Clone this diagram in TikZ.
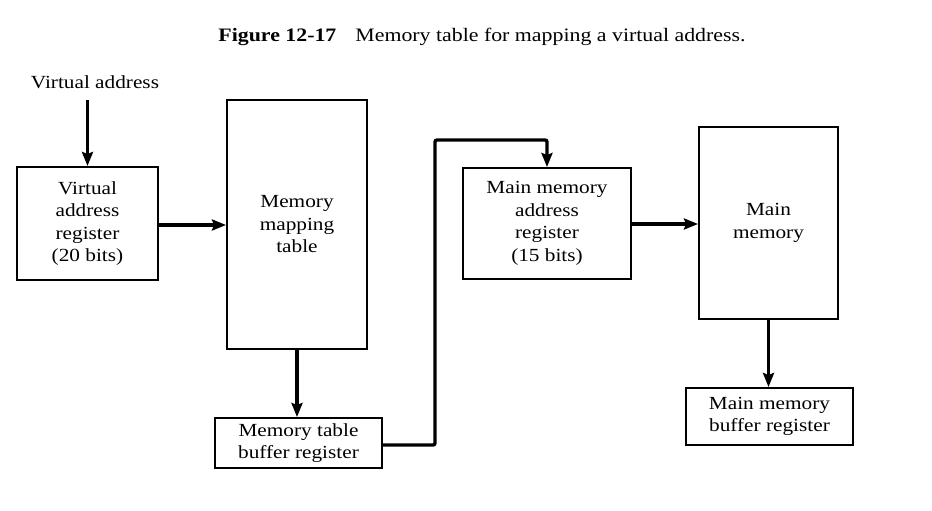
\documentclass[tikz,border=0pt]{standalone}
\usepackage{fontspec}
\setmainfont{Liberation Serif}[FakeStretch=1.15]
\usetikzlibrary{arrows.meta,calc}
\begin{document}
\begin{tikzpicture}[x=1pt,y=-1pt,
  box/.style={draw,line width=2pt,rectangle,align=center,inner sep=0pt,font=\fontsize{18.5}{22.5}\selectfont},
  flow/.style={line width=3.4pt,-{Stealth[length=14pt,width=11pt,inset=2pt]}},
  lbl/.style={font=\fontsize{18.5}{22.5}\selectfont}]
\useasboundingbox (0,0) rectangle (932,511);
\node[lbl,font=\fontsize{19}{22.5}\selectfont] (cap) at (482,37) {\textbf{Figure 12-17}\quad Memory table for mapping a virtual address.};
\node[lbl,inner sep=0pt] (va) at (95,82) {Virtual address};
\node[box,minimum width=141pt,minimum height=113pt] (var) at (87.5,223.5) {Virtual\\address\\register\\(20 bits)};
\node[box,minimum width=140pt,minimum height=249pt] (mmt) at (297,224.5) {Memory\\mapping\\table};
\node[box,minimum width=167pt,minimum height=50pt] (mtbr) at (298.5,443) {Memory table\\buffer register};
\node[box,minimum width=168pt,minimum height=111pt] (mmar) at (547,223.5) {Main memory\\address\\register\\(15 bits)};
\node[box,minimum width=139pt,minimum height=192pt] (mm) at (768.5,223) {Main\\memory};
\node[box,minimum width=167pt,minimum height=57pt] (mmbr) at (769.5,416.5) {Main memory\\buffer register};
\coordinate (bend) at (435,140);
\coordinate (vastart) at (var.north |- 0,100);
\draw[flow] (vastart) -- (var.north);
\draw[flow] (var.east |- 0,225) -- (mmt.west |- 0,225);
\draw[flow] (mmt.south) -- (mmt.south |- mtbr.north);
\draw[flow,rounded corners=2pt] (mtbr.east |- 0,445) -| (bend) -| (mmar.north);
\draw[flow] (mmar.east |- 0,224) -- (mm.west |- 0,224);
\draw[flow] (mm.south) -- (mm.south |- mmbr.north);
\end{tikzpicture}
\end{document}
